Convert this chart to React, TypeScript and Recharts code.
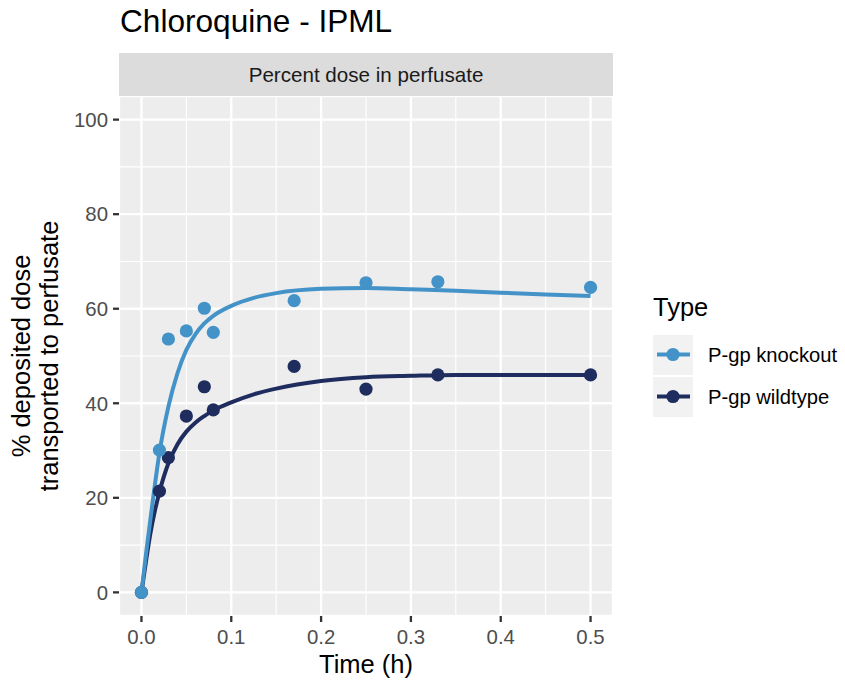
import React from 'react';
import { ComposedChart, Line, Scatter, XAxis, YAxis, CartesianGrid, ReferenceLine } from 'recharts';

// observed time points (h) and % dose in perfusate
const obsTimes = [0, 0.02, 0.03, 0.05, 0.07, 0.08, 0.17, 0.25, 0.33, 0.5];
const knockoutObs = [0, 30.1, 53.6, 55.3, 60.1, 55.0, 61.7, 65.5, 65.7, 64.5];
const wildtypeObs = [0, 21.4, 28.5, 37.3, 43.5, 38.6, 47.8, 43.0, 46.0, 46.0];

// fitted model curves
const fitTimes = [0, 0.005, 0.01, 0.015, 0.02, 0.03, 0.04, 0.05, 0.06, 0.07, 0.08, 0.1, 0.125, 0.15, 0.2, 0.25, 0.3, 0.35, 0.4, 0.45, 0.5];
const knockoutFit = [0, 8, 15.5, 22.8, 29.5, 39.3, 46.3, 51.3, 54.6, 56.9, 58.5, 60.6, 62.3, 63.3, 64.2, 64.4, 64.1, 63.8, 63.4, 63.0, 62.7];
const wildtypeFit = [0, 6.5, 12.5, 17.3, 21.2, 27.3, 31.3, 34.0, 35.9, 37.3, 38.5, 40.2, 41.9, 43.1, 44.7, 45.5, 45.8, 46.0, 46.0, 46.0, 46.0];

const xTicks = [0, 0.1, 0.2, 0.3, 0.4, 0.5];
const yTicks = [0, 20, 40, 60, 80, 100];
const xMinor = [0.05, 0.15, 0.25, 0.35, 0.45];
const yMinor = [10, 30, 50, 70, 90];

const KO = '#4393C9';
const WT = '#1F2C5E';
const FONT = '"Liberation Sans", Arial, sans-serif';

const toRows = (xs: number[], ys: number[]) => xs.map((t, i) => ({ t, v: ys[i] }));

const dot = (color: string) => (p: any) => <circle cx={p.cx} cy={p.cy} r={6.6} fill={color} />;

export default function App() {
  const tickStyle = { fontSize: 20.4, fill: '#4D4D4D', fontFamily: FONT };
  return (
    <div style={{ position: 'absolute', left: 0, top: 0, width: 845, height: 681, background: '#fff', fontFamily: FONT }}>
      <ComposedChart width={845} height={681} margin={{ top: 96, right: 232, bottom: 0, left: 0 }}>
        <CartesianGrid fill="#EDEDED" stroke="#fff" strokeWidth={2.3} />
        {xMinor.map((x) => (
          <ReferenceLine key={`xm${x}`} x={x} stroke="#fff" strokeWidth={1.1} />
        ))}
        {yMinor.map((y) => (
          <ReferenceLine key={`ym${y}`} y={y} stroke="#fff" strokeWidth={1.1} />
        ))}
        <XAxis
          dataKey="t"
          type="number"
          domain={[-0.025, 0.525]}
          ticks={xTicks}
          tickFormatter={(v: number) => v.toFixed(1)}
          allowDataOverflow
          height={65}
          axisLine={false}
          tickSize={6}
          tickMargin={8}
          tickLine={{ stroke: '#333', strokeWidth: 2.3 }}
          tick={tickStyle}
        />
        <YAxis
          dataKey="v"
          type="number"
          domain={[-5, 105]}
          ticks={yTicks}
          allowDataOverflow
          width={119}
          axisLine={false}
          tickSize={6}
          tickMargin={5}
          tickLine={{ stroke: '#333', strokeWidth: 2.3 }}
          tick={tickStyle}
        />
        <Line data={toRows(fitTimes, wildtypeFit)} dataKey="v" type="monotone" stroke={WT} strokeWidth={4} dot={false} isAnimationActive={false} />
        <Line data={toRows(fitTimes, knockoutFit)} dataKey="v" type="monotone" stroke={KO} strokeWidth={4} dot={false} isAnimationActive={false} />
        <Scatter data={toRows(obsTimes, wildtypeObs)} dataKey="v" shape={dot(WT)} isAnimationActive={false} />
        <Scatter data={toRows(obsTimes, knockoutObs)} dataKey="v" shape={dot(KO)} isAnimationActive={false} />
      </ComposedChart>

      <svg width={845} height={681} style={{ position: 'absolute', left: 0, top: 0, pointerEvents: 'none' }} fontFamily={FONT}>
        <text x={120} y={32} fontSize={31.6} fill="#000">Chloroquine - IPML</text>

        <rect x={119} y={53} width={494} height={43} fill="#DCDCDC" />
        <text x={366} y={82} fontSize={20.6} fill="#1A1A1A" textAnchor="middle">Percent dose in perfusate</text>

        <text x={366} y={673} fontSize={25.5} fill="#000" textAnchor="middle">Time (h)</text>
        <g transform="translate(0,356) rotate(-90)">
          <text x={0} y={30} fontSize={25.5} fill="#000" textAnchor="middle">% deposited dose</text>
          <text x={0} y={58} fontSize={25.5} fill="#000" textAnchor="middle">transported to perfusate</text>
        </g>

        <text x={653} y={316} fontSize={25.5} fill="#000">Type</text>
        {[
          { label: 'P-gp knockout', color: KO, y: 335 },
          { label: 'P-gp wildtype', color: WT, y: 377 },
        ].map((k) => (
          <g key={k.label}>
            <rect x={653} y={k.y} width={40} height={40} fill="#F2F2F2" />
            <line x1={657} x2={690} y1={k.y + 19.5} y2={k.y + 19.5} stroke={k.color} strokeWidth={4} />
            <circle cx={673} cy={k.y + 19.5} r={6.6} fill={k.color} />
            <text x={708} y={k.y + 26.5} fontSize={20.2} fill="#000">{k.label}</text>
          </g>
        ))}
      </svg>
    </div>
  );
}
